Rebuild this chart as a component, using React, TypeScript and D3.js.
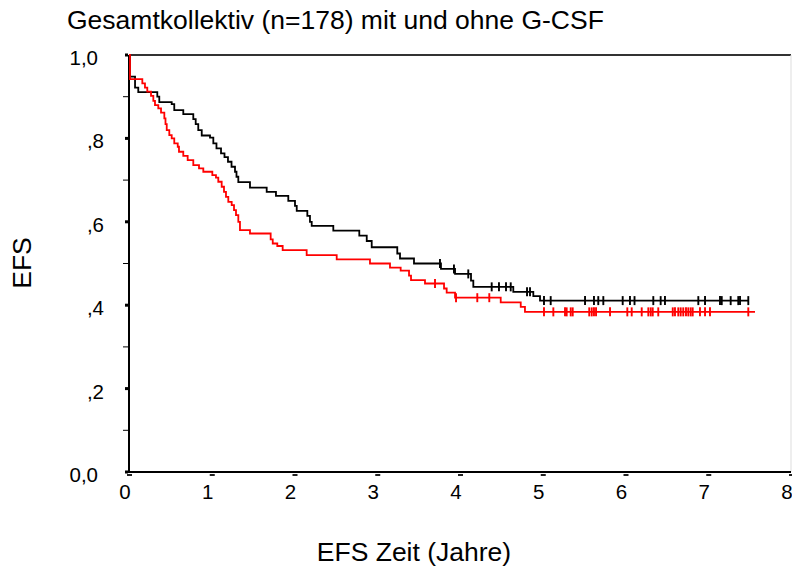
import React from "react";
import * as d3 from "d3";

const titleText = "Gesamtkollektiv (n=178) mit und ohne G-CSF";
const xTitle = "EFS Zeit (Jahre)";
const yTitle = "EFS";

const xTicks = [0, 1, 2, 3, 4, 5, 6, 7, 8];
const yTicks = [0, 0.2, 0.4, 0.6, 0.8, 1.0];
const yTickLabels = ["0,0", ",2", ",4", ",6", ",8", "1,0"];
const yMinorTicks = [0.1, 0.3, 0.5, 0.7, 0.9];

// Black group (steps: time, survival)
const blackTimes = [0.012, 0.073, 0.112, 0.342, 0.366, 0.516, 0.547, 0.656, 0.777, 0.806, 0.837, 0.879, 0.979, 1.019, 1.057, 1.112, 1.154, 1.196, 1.239, 1.281, 1.299, 1.321, 1.462, 1.664, 1.776, 1.925, 2.006, 2.027, 2.155, 2.187, 2.208, 2.469, 2.783, 2.873, 2.933, 3.242, 3.275, 3.444, 3.770, 3.940, 4.133, 4.161, 4.644, 4.886, 4.967];
const blackSurv = [0.948, 0.922, 0.911, 0.900, 0.887, 0.882, 0.868, 0.858, 0.846, 0.834, 0.820, 0.807, 0.802, 0.788, 0.776, 0.764, 0.755, 0.744, 0.732, 0.720, 0.708, 0.695, 0.682, 0.672, 0.662, 0.650, 0.638, 0.626, 0.614, 0.600, 0.590, 0.579, 0.567, 0.554, 0.539, 0.524, 0.512, 0.500, 0.487, 0.475, 0.459, 0.444, 0.432, 0.422, 0.411];
const blackCensored = [3.758, 3.927, 4.100, 4.383, 4.471, 4.556, 4.613, 4.810, 4.846, 5.015, 5.096, 5.511, 5.619, 5.671, 5.732, 5.966, 6.054, 6.109, 6.336, 6.425, 6.477, 6.880, 6.961, 7.142, 7.163, 7.271, 7.363, 7.384, 7.484];
const blackEnd = 7.484;

// Red group
const redTimes = [0.012, 0.161, 0.193, 0.221, 0.266, 0.294, 0.314, 0.354, 0.387, 0.427, 0.441, 0.456, 0.487, 0.516, 0.547, 0.589, 0.604, 0.656, 0.709, 0.777, 0.846, 0.898, 1.007, 1.051, 1.079, 1.120, 1.148, 1.172, 1.200, 1.241, 1.269, 1.293, 1.321, 1.341, 1.462, 1.712, 1.737, 1.792, 1.857, 2.147, 2.510, 2.912, 3.154, 3.283, 3.384, 3.408, 3.577, 3.807, 3.839, 3.940, 4.492, 4.734, 4.785];
const redSurv = [0.942, 0.932, 0.922, 0.912, 0.902, 0.890, 0.880, 0.872, 0.862, 0.848, 0.834, 0.820, 0.808, 0.800, 0.788, 0.780, 0.768, 0.758, 0.748, 0.736, 0.728, 0.720, 0.712, 0.706, 0.696, 0.684, 0.672, 0.660, 0.648, 0.640, 0.628, 0.616, 0.600, 0.580, 0.572, 0.558, 0.548, 0.542, 0.532, 0.520, 0.510, 0.500, 0.490, 0.483, 0.471, 0.460, 0.452, 0.440, 0.430, 0.418, 0.407, 0.396, 0.384];
const redCensored = [3.698, 3.952, 4.209, 4.354, 5.015, 5.128, 5.269, 5.289, 5.338, 5.362, 5.562, 5.592, 5.619, 5.644, 5.813, 6.022, 6.075, 6.196, 6.276, 6.305, 6.329, 6.396, 6.571, 6.598, 6.638, 6.667, 6.698, 6.731, 6.759, 6.788, 6.812, 6.900, 6.961, 7.021, 7.484];
const redEnd = 7.565;

const FONT = "'Liberation Sans', Arial, Helvetica, sans-serif";

function survAt(times: number[], surv: number[], t: number) {
  let s = 1;
  for (let i = 0; i < times.length; i++) {
    if (times[i] <= t) s = surv[i];
    else break;
  }
  return s;
}

export default function App() {
  const W = 792, H = 567;
  const x = d3.scaleLinear().domain([0, 8]).range([129, 791]);
  const y = d3.scaleLinear().domain([0, 1]).range([472, 55]);

  const line = d3
    .line<[number, number]>()
    .x((d) => x(d[0]))
    .y((d) => y(d[1]))
    .curve(d3.curveStepAfter);

  const makePts = (times: number[], surv: number[], end: number): [number, number][] => {
    const pts: [number, number][] = [[0, 1]];
    times.forEach((t, i) => pts.push([t, surv[i]]));
    pts.push([end, surv[surv.length - 1]]);
    return pts;
  };

  const groups = [
    { times: blackTimes, surv: blackSurv, cens: blackCensored, end: blackEnd, color: "#000000" },
    { times: redTimes, surv: redSurv, cens: redCensored, end: redEnd, color: "#ff0000" },
  ];

  return (
    <svg width={W} height={H} style={{ position: "absolute", left: 0, top: 0, background: "#fff" }} fontFamily={FONT}>
      <rect x={0} y={0} width={W} height={H} fill="#fff" />
      {/* frame */}
      <line x1={x(0)} x2={x(8)} y1={y(1)} y2={y(1)} stroke="#333" strokeWidth={2} />
      <line x1={791} x2={791} y1={y(1)} y2={y(0)} stroke="#ddd" strokeWidth={1} />
      <line x1={x(0) - 4} x2={x(8)} y1={y(0)} y2={y(0)} stroke="#000" strokeWidth={2} />
      <line x1={x(0)} x2={x(0)} y1={y(1)} y2={y(0) + 1} stroke="#000" strokeWidth={2} />

      {/* y ticks */}
      {yTicks.map((v, i) => (
        <g key={"yt" + i}>
          <rect x={x(0) - 4} y={y(v) - 1.5} width={3} height={3} fill="#000" />
          <text
            x={yTickLabels[i].startsWith(",") ? 104 : 98}
            y={y(v) + 10}
            fontSize={20.5}
            textAnchor="end"
            fill="#000"
          >
            {yTickLabels[i]}
          </text>
        </g>
      ))}
      {yMinorTicks.map((v, i) => (
        <line key={"ym" + i} x1={x(0) - 6} x2={x(0)} y1={y(v)} y2={y(v)} stroke="#000" strokeWidth={1} />
      ))}

      {/* x ticks */}
      {xTicks.map((v, i) => (
        <g key={"xt" + i}>
          <rect x={x(v) - 2} y={y(0) + 2} width={5} height={2} fill="#222" />
          <text x={x(v) - 4} y={499} fontSize={20.5} textAnchor="middle" fill="#000">
            {String(v)}
          </text>
        </g>
      ))}

      {/* curves */}
      {groups.map((g, gi) => (
        <g key={"g" + gi}>
          <path d={line(makePts(g.times, g.surv, g.end)) || ""} fill="none" stroke={g.color} strokeWidth={1.8} />
          {g.cens.map((t, ci) => {
            const s = survAt(g.times, g.surv, t);
            return (
              <line
                key={"c" + ci}
                x1={x(t)}
                x2={x(t)}
                y1={y(s) - 4.5}
                y2={y(s) + 4.5}
                stroke={g.color}
                strokeWidth={1.9}
              />
            );
          })}
        </g>
      ))}

      {/* titles */}
      <text x={67} y={29} fontSize={26.5} fill="#000">
        {titleText}
      </text>
      <text x={414} y={561} fontSize={26.5} textAnchor="middle" fill="#000">
        {xTitle}
      </text>
      <text transform="translate(31,263) rotate(-90)" fontSize={26.5} textAnchor="middle" fill="#000">
        {yTitle}
      </text>
    </svg>
  );
}
